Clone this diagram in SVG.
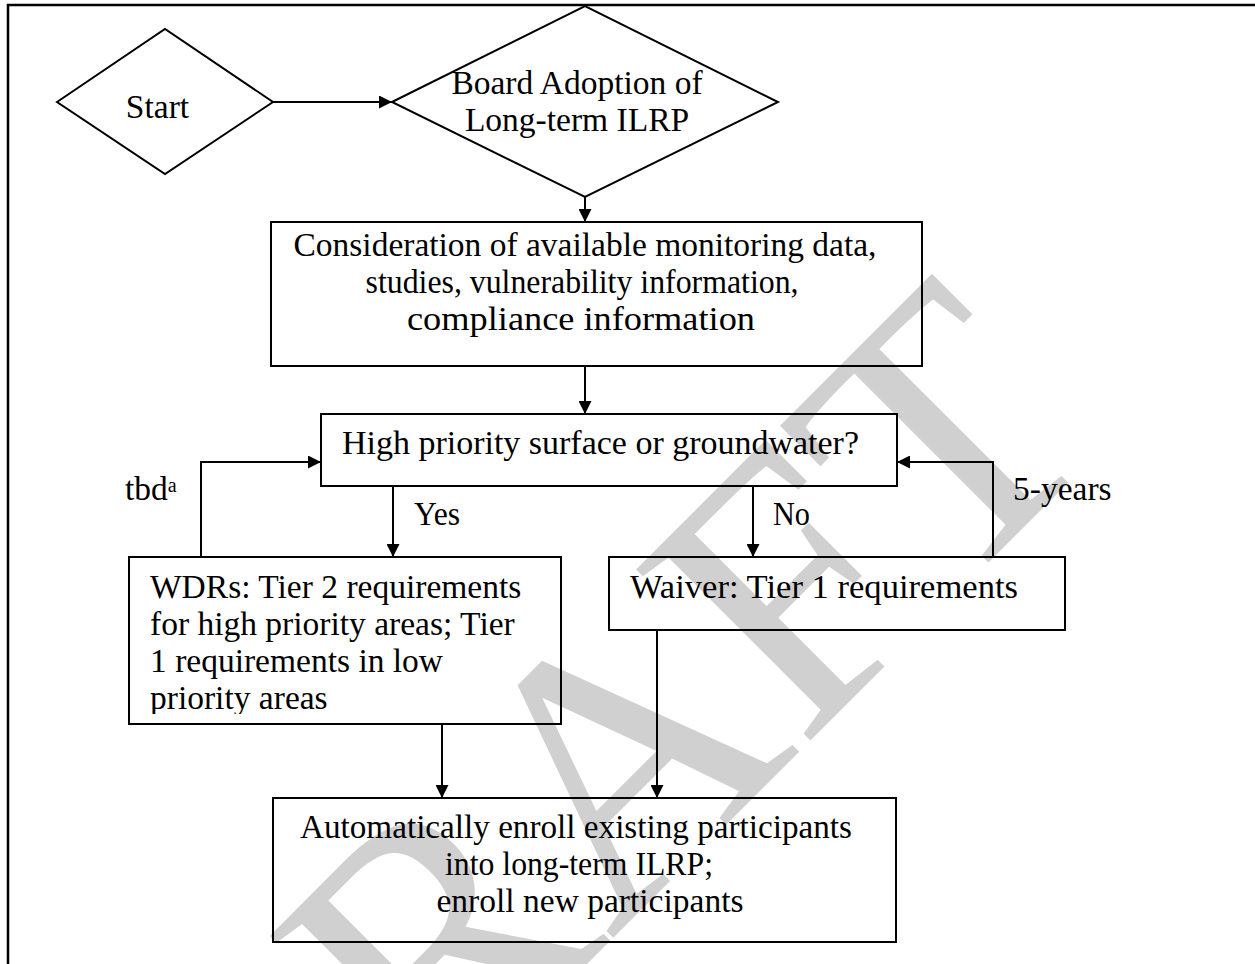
<svg xmlns="http://www.w3.org/2000/svg" width="1255" height="964" viewBox="0 0 1255 964">
<defs>
  <marker id="ah" viewBox="0 0 10 10" refX="10" refY="5" markerWidth="15" markerHeight="13" markerUnits="userSpaceOnUse" orient="auto">
    <path d="M0,0 L10,5 L0,10 z" fill="#000"/>
  </marker>
  <clipPath id="wdrClip"><rect x="129" y="557" width="432" height="157"/></clipPath>
</defs>
<style>
  .shape{fill:none;stroke:#000;stroke-width:2}
  .conn{fill:none;stroke:#000;stroke-width:2;marker-end:url(#ah)}
  .t{font-family:"Liberation Serif","Times New Roman",serif;font-size:33.5px;fill:#000}
  .c{text-anchor:middle}
  .wm{font-family:"Liberation Serif","Times New Roman",serif;font-size:373px;fill:#d0d0d0;text-anchor:end}
</style>
<rect width="1255" height="964" fill="#fff"/>
<g id="watermark">
  <text class="wm" transform="translate(1109,442) rotate(-45)">DRAFT</text>
</g>
<g id="frame"><path d="M8,964 V5 H1255" fill="none" stroke="#000" stroke-width="2.5"/></g>

<g id="connectors">
  <path class="conn" d="M273,102 H392"/>
  <path class="conn" d="M585,197 V222"/>
  <path class="conn" d="M585,366 V414"/>
  <path class="conn" d="M393,486 V557"/>
  <path class="conn" d="M753,486 V557"/>
  <path class="conn" d="M201,557 V462 H321"/>
  <path class="conn" d="M993,557 V462 H897"/>
  <path class="conn" d="M442,724 V798"/>
  <path class="conn" d="M657,630 V798"/>
  <text class="t" x="414" y="525" textLength="46" lengthAdjust="spacingAndGlyphs">Yes</text>
  <text class="t" x="773" y="525" textLength="37" lengthAdjust="spacingAndGlyphs">No</text>
  <text class="t" x="125" y="500">tbd<tspan font-size="20" dy="-8">a</tspan></text>
  <text class="t" x="1013" y="500">5-years</text>
</g>

<g id="start">
  <polygon class="shape" points="57,102 165,29 273,102 165,174"/>
  <text class="t c" x="157.5" y="118">Start</text>
</g>
<g id="board">
  <polygon class="shape" points="392,102 585,6 778,102 585,197"/>
  <text class="t c" x="577" y="94">Board Adoption of</text>
  <text class="t c" x="577" y="131">Long-term ILRP</text>
</g>
<g id="consider">
  <rect class="shape" x="271" y="222" width="651" height="144"/>
  <text class="t c" x="585" y="256" textLength="583" lengthAdjust="spacingAndGlyphs">Consideration of available monitoring data,</text>
  <text class="t c" x="582" y="293" textLength="433" lengthAdjust="spacingAndGlyphs">studies, vulnerability information,</text>
  <text class="t c" x="581" y="330" textLength="348" lengthAdjust="spacingAndGlyphs">compliance information</text>
</g>
<g id="priority">
  <rect class="shape" x="321" y="414" width="576" height="72"/>
  <text class="t c" x="600.5" y="454" textLength="517" lengthAdjust="spacingAndGlyphs">High priority surface or groundwater?</text>
</g>
<g id="wdrs">
  <rect class="shape" x="129" y="557" width="432" height="167"/>
  <g clip-path="url(#wdrClip)">
    <text class="t" x="150" y="598">WDRs: Tier 2 requirements</text>
    <text class="t" x="150" y="635">for high priority areas; Tier</text>
    <text class="t" x="150" y="672">1 requirements in low</text>
    <text class="t" x="150" y="709">priority areas</text>
  </g>
</g>
<g id="waiver">
  <rect class="shape" x="609" y="557" width="456" height="73"/>
  <text class="t" x="630" y="598" textLength="388" lengthAdjust="spacingAndGlyphs">Waiver: Tier 1 requirements</text>
</g>
<g id="enroll">
  <rect class="shape" x="273" y="798" width="623" height="144"/>
  <text class="t c" x="576" y="838" textLength="552" lengthAdjust="spacingAndGlyphs">Automatically enroll existing participants</text>
  <text class="t c" x="579" y="875" textLength="268" lengthAdjust="spacingAndGlyphs">into long-term ILRP;</text>
  <text class="t c" x="590" y="912">enroll new participants</text>
</g>
</svg>
